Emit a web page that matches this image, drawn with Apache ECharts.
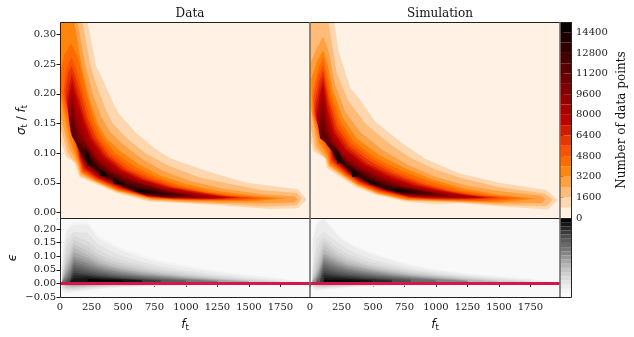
<!DOCTYPE html>
<html>
<head>
<meta charset="utf-8">
<style>html,body{margin:0;padding:0;background:#fff}#chart{width:634px;height:337px}</style>
<script src="https://cdn.jsdelivr.net/npm/echarts@6/dist/echarts.min.js"></script>
</head>
<body>
<div id="chart"></div>
<script>
// colour bar
const levelStep = 800
const levelCount = 19
const heatBands = ['#fff2e4','#ffd7ae','#ffbc79','#ffa143','#ff860d','#ff6b00','#fc5100','#e73600','#d31b00','#bf0000','#ab0000','#970000','#830000','#6f0000','#5b0000','#460000','#320000','#1e0000','#0a0000']
const greyBands = ['#f9f9f9','#f4f4f4','#ececec','#e3e3e3','#dadada','#d0d0d0','#c4c4c4','#b7b7b7','#a6a6a6','#969696','#868686','#777777','#6a6a6a','#5c5c5c','#4e4e4e','#3b3b3b','#272727','#161616','#050505']

// tick labels
const fTicks = [0,250,500,750,1000,1250,1500,1750]
const sigmaTicks = [0,0.05,0.1,0.15,0.2,0.25,0.3]
const epsTicks = [-0.05,0,0.05,0.1,0.15,0.2]
const countTicks = [0,1600,3200,4800,6400,8000,9600,11200,12800,14400]
const zeroLine = [[0,0],[1985,0]]

// contour outlines, [f, sigma], one row per level (800, 1600, ...)
const dataContours = [
  [[[0,.32],[220,.32],[288,.246],[340,.224],[434,.179],[473,.165],[606,.134],[765,.106],[871,.092],[1135,.072],[1480,.05],[1667,.045],[1890,.039],[1958,.022],[1890,.007],[1667,.006],[1269,.012],[1030,.015],[712,.018],[447,.033],[260,.05],[155,.06],[129,.077],[123,.083],[49,.094],[10,.117],[0,.118]]],
  [[[0,.32],[180,.32],[240,.25],[290,.215],[370,.17],[420,.15],[530,.125],[680,.1],[850,.08],[1100,.06],[1350,.048],[1600,.038],[1880,.033],[1920,.024],[1880,.012],[1600,.01],[1300,.014],[1000,.017],[720,.02],[450,.035],[265,.052],[160,.062],[135,.08],[60,.1],[15,.135],[0,.14]]],
  [[[0,.32],[140,.32],[200,.25],[260,.2],[330,.16],[400,.135],[500,.115],[650,.09],[820,.07],[1050,.052],[1300,.04],[1600,.031],[1860,.027],[1890,.022],[1860,.017],[1600,.015],[1300,.016],[1000,.018],[720,.022],[450,.036],[270,.053],[165,.065],[140,.082],[70,.11],[20,.15],[0,.165]]],
  [[[0,.32],[115,.32],[170,.25],[230,.195],[300,.15],[370,.125],[470,.105],[620,.082],[800,.062],[1000,.048],[1250,.036],[1550,.028],[1800,.024],[1550,.019],[1250,.019],[1000,.02],[730,.023],[455,.037],[275,.054],[170,.067],[145,.085],[80,.12],[25,.17],[0,.2]]],
  [[[0,.235],[36,.266],[88,.285],[142,.263],[210,.2],[270,.155],[340,.125],[440,.1],[590,.078],[760,.06],[960,.045],[1200,.034],[1500,.027],[1700,.024],[1500,.02],[1200,.02],[960,.021],[730,.024],[460,.038],[280,.055],[175,.068],[150,.087],[90,.13],[30,.18],[0,.21]]],
  [[[25,.2],[50,.24],[90,.262],[125,.245],[185,.2],[245,.155],[310,.125],[410,.098],[560,.075],[730,.058],[930,.044],[1150,.034],[1400,.027],[1600,.024],[1400,.021],[1150,.021],[930,.022],[720,.025],[465,.039],[285,.056],[180,.07],[152,.089],[100,.135],[40,.185]]],
  [[[40,.205],[65,.235],[92,.247],[115,.235],[165,.2],[225,.155],[290,.125],[385,.097],[530,.073],[700,.057],[900,.043],[1100,.035],[1300,.028],[1520,.025],[1300,.022],[1100,.022],[900,.023],[710,.026],[470,.04],[290,.057],[185,.072],[155,.09],[105,.14],[50,.185]]],
  [[[50,.195],[75,.22],[95,.234],[115,.22],[150,.195],[205,.155],[265,.125],[365,.096],[500,.073],[670,.056],[870,.043],[1050,.036],[1250,.029],[1430,.025],[1250,.023],[1050,.023],[870,.024],[700,.027],[480,.041],[295,.058],[190,.074],[158,.092],[110,.15],[60,.175]]],
  [[[60,.185],[80,.205],[97,.222],[115,.205],[140,.19],[190,.155],[245,.125],[345,.095],[480,.072],[640,.056],[840,.043],[1000,.036],[1200,.029],[1350,.025],[1200,.023],[1000,.024],[840,.025],[690,.028],[490,.042],[305,.059],[200,.076],[162,.094],[115,.15],[68,.17]]],
  [[[65,.17],[85,.195],[98,.212],[112,.195],[130,.18],[175,.155],[225,.125],[325,.093],[460,.071],[620,.055],[810,.042],[960,.036],[1150,.029],[1280,.026],[1150,.024],[960,.025],[810,.026],[680,.029],[495,.043],[315,.06],[210,.078],[166,.096],[120,.14],[72,.155]]],
  [[[72,.16],[88,.185],[99,.2],[110,.185],[125,.17],[165,.145],[215,.12],[310,.091],[440,.07],[600,.054],[780,.041],[930,.035],[1100,.029],[1200,.026],[1100,.025],[930,.026],[780,.027],[670,.03],[500,.044],[325,.061],[220,.08],[172,.098],[125,.135],[78,.145]]],
  [[[78,.15],[90,.175],[100,.19],[108,.175],[120,.16],[155,.135],[210,.115],[300,.088],[425,.068],[580,.053],[760,.04],[900,.034],[1050,.029],[1130,.027],[1050,.025],[900,.026],[760,.028],[660,.031],[500,.044],[335,.062],[230,.081],[178,.1],[130,.13],[85,.135]]],
  [[[85,.14],[95,.165],[102,.175],[110,.16],[150,.125],[205,.115],[295,.088],[410,.068],[560,.054],[740,.043],[900,.034],[1060,.029],[900,.025],[740,.028],[640,.032],[500,.043],[360,.059],[260,.072],[185,.09],[130,.115],[92,.13]]],
  [[[95,.13],[105,.155],[115,.135],[160,.115],[205,.108],[285,.085],[400,.066],[540,.052],[720,.042],[880,.034],[1000,.029],[880,.026],[720,.03],[630,.033],[500,.044],[370,.06],[270,.074],[195,.09],[140,.115]]],
  [[[115,.135],[125,.122],[190,.107],[235,.095],[300,.075],[410,.062],[530,.05],[700,.04],[850,.033],[950,.03],[850,.028],[700,.031],[620,.034],[500,.045],[380,.061],[280,.076],[205,.088],[140,.11]]],
  [[[195,.105],[235,.093],[320,.073],[400,.06],[500,.05],[620,.04],[800,.033],[880,.031],[800,.03],[640,.034],[500,.046],[380,.062],[290,.072],[225,.08],[200,.09]]],
  [[[205,.108],[235,.098],[240,.08],[215,.078]],[[300,.076],[360,.068],[385,.058],[320,.062]],[[420,.06],[490,.05],[520,.046],[430,.048]],[[590,.04],[700,.038],[800,.034],[700,.032],[600,.036]]],
  [[[215,.1],[232,.095],[235,.085],[220,.082]],[[325,.072],[360,.066],[350,.062]],[[445,.054],[480,.05],[450,.048]],[[620,.039],[720,.036],[620,.034]]]
]

// same for the Simulation panel
const simContours = [
  [[[0,.32],[194,.32],[226,.272],[319,.21],[399,.19],[519,.153],[732,.117],[918,.09],[1184,.066],[1503,.05],[1876,.038],[1968,.021],[1889,.005],[1530,.01],[1184,.016],[998,.014],[758,.018],[519,.03],[359,.043],[253,.058],[133,.075],[120,.092],[27,.103],[0,.125]]],
  [[[0,.32],[146,.32],[213,.235],[300,.19],[440,.15],[620,.118],[800,.092],[1000,.072],[1200,.058],[1500,.043],[1860,.032],[1930,.022],[1880,.011],[1540,.012],[1180,.017],[1000,.018],[760,.02],[530,.031],[370,.045],[262,.06],[145,.077],[128,.09],[40,.108],[0,.15]]],
  [[[0,.25],[50,.275],[105,.297],[150,.27],[200,.215],[280,.17],[400,.135],[580,.105],[780,.08],[1000,.06],[1250,.045],[1500,.036],[1840,.028],[1870,.022],[1840,.016],[1500,.015],[1180,.018],[1000,.019],[760,.021],[535,.032],[375,.046],[268,.061],[150,.079],[135,.09],[55,.112],[0,.185]]],
  [[[10,.225],[55,.255],[105,.274],[140,.25],[185,.205],[260,.16],[370,.125],[550,.097],[750,.075],[980,.055],[1230,.04],[1500,.03],[1800,.023],[1500,.017],[1180,.019],[1000,.02],[770,.022],[540,.033],[380,.047],[274,.062],[155,.081],[140,.095],[70,.118],[15,.17]]],
  [[[20,.2],[60,.24],[105,.262],[130,.24],[170,.2],[240,.155],[345,.12],[520,.092],[720,.071],[950,.052],[1200,.037],[1440,.029],[1700,.024],[1440,.019],[1180,.02],[1000,.021],[780,.023],[545,.034],[385,.048],[280,.063],[160,.083],[145,.1],[80,.125],[25,.165]]],
  [[[28,.195],[65,.23],[105,.25],[125,.23],[158,.195],[225,.15],[325,.117],[490,.09],[690,.068],[920,.049],[1150,.036],[1380,.029],[1600,.024],[1380,.02],[1150,.021],[980,.022],[790,.024],[550,.035],[390,.049],[286,.064],[165,.085],[150,.105],[85,.13],[33,.165]]],
  [[[35,.185],[70,.22],[105,.24],[122,.22],[150,.19],[212,.145],[310,.113],[470,.087],[660,.066],[890,.048],[1100,.036],[1300,.029],[1520,.025],[1300,.022],[1100,.022],[950,.023],[790,.025],[560,.036],[395,.05],[292,.065],[170,.087],[155,.11],[90,.135],[42,.16]]],
  [[[42,.175],[75,.21],[105,.23],[120,.21],[143,.185],[200,.14],[295,.11],[450,.084],[640,.064],[860,.047],[1060,.037],[1250,.03],[1450,.025],[1250,.023],[1050,.023],[930,.024],[790,.026],[570,.037],[400,.051],[298,.066],[178,.089],[160,.112],[95,.14],[50,.155]]],
  [[[50,.165],[80,.2],[105,.22],[118,.2],[137,.175],[190,.135],[280,.107],[430,.082],[620,.062],[830,.046],[1020,.037],[1220,.03],[1400,.025],[1220,.024],[1020,.025],[910,.025],[780,.027],[580,.038],[405,.052],[304,.067],[186,.091],[165,.115],[100,.14],[58,.15]]],
  [[[58,.155],[85,.19],[105,.21],[116,.19],[133,.165],[182,.13],[270,.103],[415,.08],[600,.06],[800,.045],[980,.037],[1180,.03],[1320,.026],[1180,.024],[980,.026],[880,.026],[770,.028],[590,.039],[412,.053],[310,.068],[194,.093],[170,.115],[108,.135],[65,.145]]],
  [[[65,.145],[88,.18],[105,.2],[114,.18],[130,.155],[178,.125],[260,.1],[400,.078],[580,.059],[780,.044],[940,.037],[1120,.03],[1240,.027],[1120,.025],[930,.027],[760,.029],[600,.04],[420,.054],[318,.069],[204,.095],[175,.112],[113,.13],[72,.135]]],
  [[[72,.135],[90,.17],[105,.19],[112,.17],[128,.145],[175,.12],[250,.097],[385,.076],[560,.058],[750,.043],[900,.037],[1060,.03],[1160,.028],[1060,.026],[880,.028],[750,.03],[610,.041],[430,.055],[326,.07],[214,.095],[180,.11],[118,.125],[80,.125]]],
  [[[80,.125],[93,.155],[105,.175],[112,.155],[128,.135],[175,.115],[245,.095],[375,.075],[540,.057],[720,.044],[900,.036],[1090,.029],[900,.029],[730,.031],[610,.042],[440,.056],[336,.071],[224,.09],[185,.105],[122,.118]]],
  [[[92,.135],[105,.155],[115,.135],[180,.112],[240,.093],[365,.073],[520,.056],[690,.044],[880,.037],[1020,.031],[880,.03],[690,.033],[590,.043],[450,.057],[346,.072],[235,.088],[190,.1],[130,.115]]],
  [[[150,.115],[195,.112],[240,.097],[290,.084],[370,.071],[500,.055],[650,.044],[820,.038],[950,.033],[820,.031],[670,.035],[540,.046],[450,.054],[350,.066],[265,.08],[205,.09]]],
  [[[200,.11],[238,.097],[285,.08],[370,.07],[480,.055],[620,.043],[780,.038],[880,.034],[780,.032],[620,.037],[480,.048],[350,.064],[245,.083],[208,.09]]],
  [[[212,.106],[238,.1],[240,.084],[216,.082]],[[322,.077],[368,.07],[385,.06],[335,.06]],[[460,.056],[545,.046],[475,.047]],[[640,.041],[740,.038],[830,.035],[740,.034],[640,.037]]],
  [[[220,.1],[235,.096],[235,.086],[222,.085]],[[340,.073],[365,.067],[350,.062]],[[480,.053],[520,.049],[485,.049]],[[690,.039],[760,.037],[690,.035]]]
]

// residual panels: edge of each level at these f stations, null where the level is not reached
const residStations = [20,50,80,110,220,300,400,500,650,800,1000,1250,1500,1750,1950]
const dataResidUpper = [
  [.13,.2,.215,.225,.228,.178,.15,.128,.105,.085,.067,.047,.032,.02,.004],
  [.11,.19,.208,.215,.217,.166,.141,.118,.094,.075,.058,.04,.026,.015,.003],
  [.07,.16,.18,.19,.185,.145,.12,.1,.08,.063,.047,.032,.02,.01,null],
  [.05,.13,.155,.175,.155,.125,.1,.085,.068,.054,.04,.026,.015,.007,null],
  [.035,.1,.13,.16,.135,.108,.087,.073,.058,.046,.034,.022,.012,.005,null],
  [.025,.08,.11,.145,.118,.095,.076,.064,.05,.04,.029,.018,.01,null,null],
  [.02,.065,.095,.13,.104,.084,.067,.056,.044,.035,.025,.015,.008,null,null],
  [.015,.05,.08,.115,.092,.074,.06,.05,.039,.031,.022,.013,.006,null,null],
  [.012,.04,.065,.1,.082,.066,.053,.044,.034,.027,.019,.011,null,null,null],
  [.01,.03,.052,.09,.072,.058,.047,.039,.03,.024,.016,.009,null,null,null],
  [.008,.022,.042,.08,.063,.051,.041,.034,.026,.02,.014,.007,null,null,null],
  [.006,.016,.032,.07,.055,.045,.036,.03,.023,.017,.012,null,null,null,null],
  [null,.012,.024,.06,.047,.039,.031,.026,.02,.015,.01,null,null,null,null],
  [null,.008,.017,.05,.04,.033,.027,.022,.017,.012,null,null,null,null,null],
  [null,null,.012,.04,.033,.028,.023,.019,.014,.01,null,null,null,null,null],
  [null,null,.008,.03,.027,.023,.019,.016,.012,null,null,null,null,null,null],
  [null,null,.005,.018,.022,.019,.016,.014,.011,null,null,null,null,null,null],
  [null,null,null,null,.016,.014,.012,.011,null,null,null,null,null,null,null]
]
const dataResidLower = [
  [-.03,-.035,-.034,-.033,-.027,-.022,-.018,-.015,-.012,-.01,-.008,-.007,-.005,-.004,-.001],
  [-.025,-.03,-.03,-.029,-.024,-.02,-.016,-.013,-.01,-.008,-.007,-.006,-.004,-.003,0],
  [-.018,-.025,-.025,-.025,-.02,-.016,-.013,-.011,-.008,-.007,-.006,-.005,-.003,-.002,0],
  [-.012,-.02,-.021,-.021,-.016,-.013,-.011,-.009,-.007,-.006,-.005,-.004,-.002,-.001,0],
  [-.006,-.016,-.017,-.017,-.013,-.011,-.009,-.007,-.006,-.005,-.004,-.003,-.001,0,0],
  [-.004,-.012,-.013,-.014,-.01,-.009,-.007,-.006,-.005,-.004,-.003,-.002,0,0,0],
  [-.003,-.009,-.01,-.011,-.008,-.007,-.006,-.005,-.004,-.003,-.002,-.001,0,0,0],
  [-.002,-.007,-.008,-.009,-.007,-.006,-.005,-.004,-.003,-.002,-.001,0,0,0,0]
]
const simResidUpper = [
  [.16,.225,.235,.24,.183,.155,.13,.112,.09,.07,.052,.037,.026,.017,.004],
  [.145,.215,.228,.235,.175,.147,.122,.104,.083,.064,.047,.033,.023,.014,.003],
  [.05,.16,.178,.19,.15,.125,.104,.088,.07,.055,.04,.028,.018,.01,null],
  [.03,.12,.15,.17,.13,.108,.09,.077,.061,.048,.035,.024,.014,.007,null],
  [.02,.08,.12,.155,.115,.096,.08,.068,.054,.042,.031,.02,.011,.005,null],
  [.015,.055,.1,.14,.103,.086,.072,.06,.048,.037,.027,.017,.008,null,null],
  [.01,.04,.08,.125,.092,.077,.064,.054,.043,.033,.024,.014,.006,null,null],
  [.008,.03,.065,.11,.083,.069,.058,.049,.038,.029,.021,.012,null,null,null],
  [.006,.022,.055,.1,.074,.062,.052,.044,.034,.026,.018,.01,null,null,null],
  [null,.016,.045,.09,.066,.055,.046,.039,.03,.023,.015,.008,null,null,null],
  [null,.012,.036,.08,.058,.049,.041,.034,.026,.02,.013,null,null,null,null],
  [null,.009,.028,.07,.051,.043,.036,.03,.023,.017,.01,null,null,null,null],
  [null,.006,.02,.06,.044,.037,.031,.026,.02,.014,null,null,null,null,null],
  [null,null,.014,.05,.037,.032,.026,.022,.016,.011,null,null,null,null,null],
  [null,null,.009,.04,.03,.026,.022,.018,.013,null,null,null,null,null,null],
  [null,null,null,.03,.024,.021,.017,.014,.01,null,null,null,null,null,null],
  [null,null,null,.02,.018,.016,.013,.011,null,null,null,null,null,null,null],
  [null,null,null,.012,.012,.011,.01,null,null,null,null,null,null,null,null]
]
const simResidLower = [
  [-.02,-.026,-.026,-.025,-.02,-.016,-.013,-.011,-.009,-.008,-.007,-.006,-.004,-.003,-.001],
  [-.016,-.022,-.022,-.021,-.017,-.014,-.011,-.009,-.008,-.007,-.006,-.005,-.003,-.002,0],
  [-.01,-.017,-.017,-.017,-.014,-.011,-.009,-.008,-.006,-.005,-.005,-.004,-.002,-.001,0],
  [-.006,-.013,-.014,-.014,-.011,-.009,-.007,-.006,-.005,-.004,-.004,-.003,-.001,0,0],
  [-.003,-.01,-.011,-.011,-.009,-.007,-.006,-.005,-.004,-.003,-.002,-.001,0,0,0],
  [-.002,-.008,-.009,-.009,-.007,-.006,-.005,-.004,-.003,-.002,-.001,0,0,0,0]
]

const serif = 'DejaVu Serif'
const tickColor = '#1a1a1a'
const fMax = 1985

// levels below the lower table end on the zero line
function residOutlines(upper, lower) {
  return upper.map(function (row, lvl) {
    let top = []
    let bottom = []
    row.forEach(function (v, i) {
      if (v === null) return
      top.push([residStations[i], v])
      bottom.unshift([residStations[i], lower[lvl] ? lower[lvl][i] : 0])
    })
    return [top.concat(bottom)]
  })
}

function contourSeries(gridIndex, outlines, bands) {
  return {
    type: 'custom',
    xAxisIndex: gridIndex,
    yAxisIndex: gridIndex,
    silent: true,
    animation: false,
    clip: true,
    data: outlines.map(function (o, i) { return [i] }),
    renderItem: function (params, api) {
      let lvl = params.dataIndex
      return {
        type: 'group',
        children: outlines[lvl].map(function (poly) {
          return {
            type: 'polygon',
            shape: { points: poly.map(function (p) { return api.coord(p) }) },
            style: { fill: bands[lvl + 1] }
          }
        })
      }
    }
  }
}

function barSeries(gridIndex, bands) {
  return {
    type: 'custom',
    xAxisIndex: gridIndex,
    yAxisIndex: gridIndex,
    silent: true,
    animation: false,
    data: bands.map(function (b, i) { return [i] }),
    renderItem: function (params, api) {
      let a = api.coord([0, params.dataIndex * levelStep])
      let b = api.coord([1, (params.dataIndex + 1) * levelStep])
      return {
        type: 'rect',
        shape: { x: a[0], y: b[1], width: b[0] - a[0], height: a[1] - b[1] },
        style: { fill: bands[params.dataIndex] }
      }
    }
  }
}

const mathRich = {
  i: { fontFamily: 'DejaVu Sans', fontStyle: 'italic', fontSize: 12, color: '#111' },
  s: { fontFamily: 'DejaVu Sans', fontSize: 8.5, color: '#111', padding: [5, 0, 0, 0] },
  n: { fontFamily: 'DejaVu Sans', fontSize: 12, color: '#111' }
}

function xAxisFor(gridIndex, labelled) {
  return {
    type: 'value',
    gridIndex: gridIndex,
    min: 0,
    max: fMax,
    splitLine: { show: false },
    axisLine: { show: false },
    axisTick: { show: labelled, length: 3.5, lineStyle: { color: tickColor, width: 1 }, customValues: fTicks },
    axisLabel: { show: labelled, customValues: fTicks, fontFamily: serif, fontSize: 10, color: tickColor, margin: 5, formatter: function (v) { return String(v) } },
    name: labelled ? '{i|f}{s|t}' : '',
    nameLocation: 'middle',
    nameGap: 21,
    nameTextStyle: { rich: mathRich }
  }
}

function yAxisFor(gridIndex, range, ticks, labelled, name, nameGap) {
  return {
    type: 'value',
    gridIndex: gridIndex,
    min: range[0],
    max: range[1],
    splitLine: { show: false },
    axisLine: { show: false },
    axisTick: { show: labelled, length: 3.5, lineStyle: { color: tickColor, width: 1 }, customValues: ticks },
    axisLabel: {
      show: labelled,
      customValues: ticks,
      fontFamily: serif,
      fontSize: 10,
      color: tickColor,
      margin: 4,
      formatter: function (v) { return v.toFixed(2).replace('-', '\u2212') }
    },
    name: name,
    nameLocation: 'middle',
    nameGap: nameGap,
    nameRotate: 90,
    nameTextStyle: { rich: mathRich }
  }
}

const sigmaRange = [-0.0093, 0.321]
const epsRange = [-0.05, 0.2404]
const dataResid = residOutlines(dataResidUpper, dataResidLower)
const simResid = residOutlines(simResidUpper, simResidLower)

function frame(x, y, w, h, color) {
  return { type: 'rect', z: 100, shape: { x: x, y: y, width: w, height: h }, style: { fill: 'none', stroke: color, lineWidth: 1 } }
}
function rule(x1, y1, x2, y2, color, w) {
  return { type: 'line', z: 101, shape: { x1: x1, y1: y1, x2: x2, y2: y2 }, style: { stroke: color, lineWidth: w } }
}

const option = {
  backgroundColor: '#fff',
  animation: false,
  title: [
    { text: 'Data', left: 185, top: 3, textAlign: 'center', textStyle: { fontFamily: serif, fontSize: 12, fontWeight: 'normal', color: '#111' } },
    { text: 'Simulation', left: 435, top: 3, textAlign: 'center', textStyle: { fontFamily: serif, fontSize: 12, fontWeight: 'normal', color: '#111' } }
  ],
  grid: [
    { left: 60, top: 22, width: 250, height: 196, show: true, borderWidth: 0, backgroundColor: heatBands[0] },
    { left: 310, top: 22, width: 250, height: 196, show: true, borderWidth: 0, backgroundColor: heatBands[0] },
    { left: 60, top: 218, width: 250, height: 79, show: true, borderWidth: 0, backgroundColor: greyBands[0] },
    { left: 310, top: 218, width: 250, height: 79, show: true, borderWidth: 0, backgroundColor: greyBands[0] },
    { left: 560, top: 22, width: 12, height: 196 },
    { left: 560, top: 218, width: 12, height: 79 }
  ],
  xAxis: [
    xAxisFor(0, false),
    xAxisFor(1, false),
    xAxisFor(2, true),
    xAxisFor(3, true),
    { type: 'value', gridIndex: 4, min: 0, max: 1, show: false },
    { type: 'value', gridIndex: 5, min: 0, max: 1, show: false }
  ],
  yAxis: [
    yAxisFor(0, sigmaRange, sigmaTicks, true, '{i|\u03c3}{s|t}{n| / }{i|f}{s|t}', 31),
    yAxisFor(1, sigmaRange, sigmaTicks, false, '', 0),
    yAxisFor(2, epsRange, epsTicks, true, '{i|\u03f5}', 41),
    yAxisFor(3, epsRange, epsTicks, false, '', 0),
    {
      type: 'value',
      gridIndex: 4,
      position: 'right',
      min: 0,
      max: levelStep * levelCount,
      splitLine: { show: false },
      axisLine: { show: false },
      axisTick: { length: 3.5, lineStyle: { color: tickColor, width: 1 }, customValues: countTicks },
      axisLabel: { customValues: countTicks, fontFamily: serif, fontSize: 10, color: tickColor, margin: 4, formatter: function (v) { return String(v) } },
      name: 'Number of data points',
      nameLocation: 'middle',
      nameGap: 44,
      nameRotate: 90,
      nameTextStyle: { fontFamily: serif, fontSize: 12, color: '#111' }
    },
    { type: 'value', gridIndex: 5, min: 0, max: levelStep * levelCount, show: false }
  ],
  series: [
    contourSeries(0, dataContours, heatBands),
    contourSeries(1, simContours, heatBands),
    contourSeries(2, dataResid, greyBands),
    contourSeries(3, simResid, greyBands),
    { type: 'line', xAxisIndex: 2, yAxisIndex: 2, data: zeroLine, symbol: 'none', silent: true, z: 5, lineStyle: { color: '#d4164a', width: 3 } },
    { type: 'line', xAxisIndex: 3, yAxisIndex: 3, data: zeroLine, symbol: 'none', silent: true, z: 5, lineStyle: { color: '#d4164a', width: 3 } },
    barSeries(4, heatBands),
    barSeries(5, greyBands)
  ],
  graphic: [
    frame(60.5, 22.5, 511, 196, '#222'),
    frame(60.5, 218.5, 511, 79, '#222'),
    rule(310, 22, 310, 297, '#6e6e6e', 1.6),
    rule(560, 22, 560, 297, '#6e6e6e', 1.6)
  ]
}

const chart = echarts.init(document.getElementById('chart'), null, { renderer: 'canvas' })
chart.setOption(option)
</script>
</body>
</html>
